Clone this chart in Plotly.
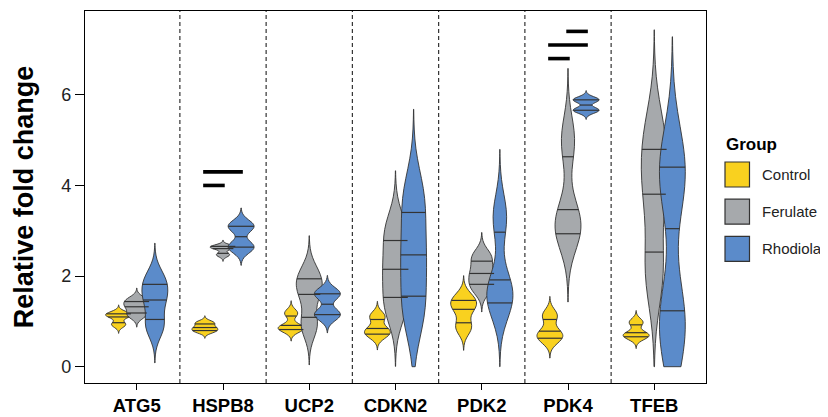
import numpy as np
import plotly.graph_objects as go

# ---------------- data ----------------
genes = ["ATG5", "HSPB8", "UCP2", "CDKN2", "PDK2", "PDK4", "TFEB"]
groups = ["Control", "Ferulate", "Rhodiola"]

control = [[0.93, 1.12, 1.17], [0.78, 0.86, 0.97], [0.84, 0.86, 1.18], [0.70, 0.82, 1.11],
           [0.87, 1.30, 1.50], [0.61, 0.75, 1.13], [0.66, 0.72, 0.98]]
ferulate = [[1.14, 1.33, 1.47], [2.47, 2.63, 2.65], [0.92, 1.65, 2.01], [1.34, 2.15, 2.99],
            [1.75, 2.05, 2.42], [3.02, 3.20, 4.99], [2.10, 3.90, 5.05]]
rhodiola = [[0.90, 1.50, 1.91], [2.64, 3.10], [1.15, 1.61], [1.25, 2.45, 3.70],
            [1.45, 1.70, 3.30], [5.66, 5.89], [0.90, 4.30]]
group_values = [control, ferulate, rhodiola]

sig_gene = ["HSPB8", "HSPB8", "PDK4", "PDK4", "PDK4"]
sig_from = ["Control", "Control", "Control", "Control", "Ferulate"]
sig_to = ["Ferulate", "Rhodiola", "Ferulate", "Rhodiola", "Rhodiola"]
sig_y = [4.0, 4.3, 6.8, 7.1, 7.4]

y_ticks = [0, 2, 4, 6]

# ---------------- style ----------------
colors = ["#F9D11F", "#A6A9AC", "#5B8BCA"]
outline = "#333333"
DODGE = 0.21
VWIDTH = 0.3
FONT = "Liberation Sans, Arial, Helvetica, sans-serif"
W, H = 820, 409          # page body adds an 8px offset in the 828x417 window
PL, PR, PT, PB = 77, 698, 3, 375


def nrd0(x):
    x = np.asarray(x, float)
    sd = np.std(x, ddof=1)
    q75, q25 = np.percentile(x, [75, 25])
    lo = min(sd, (q75 - q25) / 1.34)
    if lo <= 0:
        lo = sd if sd > 0 else 1.0
    return 0.9 * lo * len(x) ** -0.2


def kde(x, grid, bw):
    x = np.asarray(x, float)
    z = (grid[:, None] - x[None, :]) / bw
    return np.exp(-0.5 * z ** 2).sum(1) / (len(x) * bw * np.sqrt(2 * np.pi))


fig = go.Figure()
qline_x = [[], [], []]
qline_y = [[], [], []]

for gi, gene in enumerate(genes):
    for j, grp in enumerate(groups):
        vals = np.asarray(group_values[j][gi], float)
        pos = gi + (j - 1) * DODGE
        bw = nrd0(vals)
        lo = max(0.0, vals.min() - 3 * bw)
        hi = vals.max() + 3 * bw
        fig.add_trace(go.Violin(
            x=[pos] * len(vals), y=vals, name=grp,
            bandwidth=bw, spanmode="manual", span=[lo, hi],
            width=VWIDTH, scalemode="width", points=False,
            fillcolor=colors[j], line=dict(color=outline, width=0.9),
            box_visible=False, meanline_visible=False,
            hoverinfo="skip", showlegend=False, opacity=1,
        ))
        grid = np.linspace(lo, hi, 512)
        dens = kde(vals, grid, bw)
        cdf = np.cumsum(dens) / dens.sum()
        qs = np.interp([0.25, 0.5, 0.75], cdf, grid)
        half = np.interp(qs, grid, dens) / dens.max() * VWIDTH / 2
        for q, h in zip(qs, half):
            qline_x[j] += [pos - h, pos + h, None]
            qline_y[j] += [q, q, None]

for j in range(3):
    fig.add_trace(go.Scatter(x=qline_x[j], y=qline_y[j], mode="lines",
                             line=dict(color=outline, width=1.2),
                             hoverinfo="skip", showlegend=False))

# significance bars
sx, sy = [], []
for g, a, b, yv in zip(sig_gene, sig_from, sig_to, sig_y):
    gi = genes.index(g)
    xa = gi + (groups.index(a) - 1) * DODGE
    xb = gi + (groups.index(b) - 1) * DODGE
    sx += [xa - 0.02, xb + 0.02, None]
    sy += [yv, yv, None]
fig.add_trace(go.Scatter(x=sx, y=sy, mode="lines", line=dict(color="black", width=3.6),
                         hoverinfo="skip", showlegend=False))

# separators
shapes = []
for k in range(len(genes) - 1):
    shapes.append(dict(type="line", xref="x", yref="paper", x0=k + 0.5, x1=k + 0.5,
                       y0=0, y1=1, line=dict(color="#333333", width=1.2, dash="4px,3px"),
                       layer="below"))


def pxx(px):
    return (px - PL) / (PR - PL)


def pxy(py):
    return (PB - py) / (PB - PT)


# manual legend (pixel positions in figure coordinates)
annotations = [dict(text="<b>Group</b>", x=pxx(716), y=pxy(136), xref="paper", yref="paper",
                    xanchor="left", yanchor="middle", showarrow=False,
                    font=dict(size=17, color="black", family=FONT))]
for j, grp in enumerate(groups):
    top = 154 + j * 37.2
    shapes.append(dict(type="rect", xref="paper", yref="paper",
                       x0=pxx(717), x1=pxx(741.5), y0=pxy(top), y1=pxy(top + 25),
                       fillcolor=colors[j], line=dict(color=outline, width=1.2)))
    annotations.append(dict(text=grp, x=pxx(752), y=pxy(top + 12.5), xref="paper", yref="paper",
                            xanchor="left", yanchor="middle", showarrow=False,
                            font=dict(size=15, color="#222222", family=FONT)))

axis_common = dict(showline=True, mirror=True, linecolor="black", linewidth=1.3,
                   ticks="outside", tickwidth=1.3, tickcolor="black", showgrid=False,
                   zeroline=False)

fig.update_layout(
    width=W, height=H,
    margin=dict(l=PL, r=W - PR, t=PT, b=H - PB, autoexpand=False),
    plot_bgcolor="white", paper_bgcolor="white",
    violinmode="overlay",
    font=dict(family=FONT, color="black"),
    shapes=shapes, annotations=annotations,
    showlegend=False,
    xaxis=dict(range=[-0.6, 6.6], tickvals=list(range(len(genes))), ticktext=genes,
               ticklen=6, ticklabelstandoff=0,
               tickfont=dict(size=18.5, weight="bold", color="black"),
               **axis_common),
    yaxis=dict(range=[-0.36, 7.85], tickvals=y_ticks, ticktext=[str(t) for t in y_ticks],
               ticklen=9, tickfont=dict(size=18, color="#222222"),
               title=dict(text="<b>Relative fold change</b>", font=dict(size=27), standoff=19),
               **axis_common),
)

fig.write_html("out.html")
